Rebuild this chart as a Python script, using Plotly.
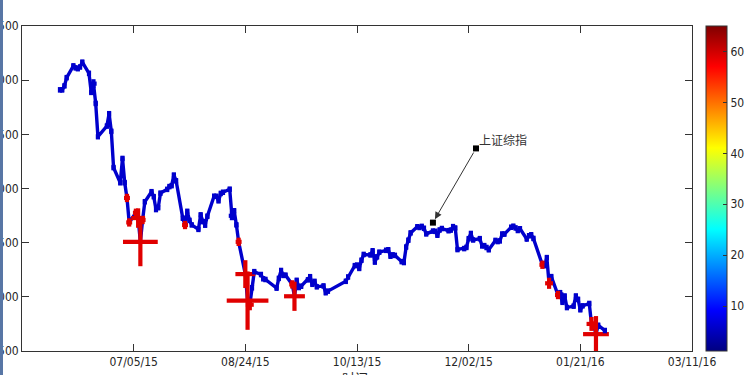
import plotly.graph_objects as go

# ---------------- data ----------------
dates = [
    "2015-06-02", "2015-06-03", "2015-06-04", "2015-06-05", "2015-06-08", "2015-06-09", "2015-06-10",
    "2015-06-11", "2015-06-12", "2015-06-15", "2015-06-16", "2015-06-17", "2015-06-18", "2015-06-19",
    "2015-06-23", "2015-06-24", "2015-06-25", "2015-06-26", "2015-06-29", "2015-06-30",
    "2015-07-01", "2015-07-02", "2015-07-03", "2015-07-06", "2015-07-07", "2015-07-08", "2015-07-09",
    "2015-07-10", "2015-07-13", "2015-07-14", "2015-07-15", "2015-07-16", "2015-07-17", "2015-07-20",
    "2015-07-21", "2015-07-22", "2015-07-23", "2015-07-24", "2015-07-27", "2015-07-28", "2015-07-29",
    "2015-07-30", "2015-07-31",
    "2015-08-03", "2015-08-04", "2015-08-05", "2015-08-06", "2015-08-07", "2015-08-10", "2015-08-11",
    "2015-08-12", "2015-08-13", "2015-08-14", "2015-08-17", "2015-08-18", "2015-08-19", "2015-08-20",
    "2015-08-21", "2015-08-24", "2015-08-25", "2015-08-26", "2015-08-27", "2015-08-28", "2015-08-31",
    "2015-09-01", "2015-09-02", "2015-09-07", "2015-09-08", "2015-09-09", "2015-09-10", "2015-09-11",
    "2015-09-14", "2015-09-15", "2015-09-16", "2015-09-17", "2015-09-18", "2015-09-21", "2015-09-22",
    "2015-09-23", "2015-09-24", "2015-09-25", "2015-09-28", "2015-09-29", "2015-09-30",
    "2015-10-08", "2015-10-09", "2015-10-12", "2015-10-13", "2015-10-14", "2015-10-15", "2015-10-16",
    "2015-10-19", "2015-10-20", "2015-10-21", "2015-10-22", "2015-10-23", "2015-10-26", "2015-10-27",
    "2015-10-28", "2015-10-29", "2015-10-30",
    "2015-11-02", "2015-11-03", "2015-11-04", "2015-11-05", "2015-11-06", "2015-11-09", "2015-11-10",
    "2015-11-11", "2015-11-12", "2015-11-13", "2015-11-16", "2015-11-17", "2015-11-18", "2015-11-19",
    "2015-11-20", "2015-11-23", "2015-11-24", "2015-11-25", "2015-11-26", "2015-11-27", "2015-11-30",
    "2015-12-01", "2015-12-02", "2015-12-03", "2015-12-04", "2015-12-07", "2015-12-08", "2015-12-09",
    "2015-12-10", "2015-12-11", "2015-12-14", "2015-12-15", "2015-12-16", "2015-12-17", "2015-12-18",
    "2015-12-21", "2015-12-22", "2015-12-23", "2015-12-24", "2015-12-25", "2015-12-28", "2015-12-29",
    "2015-12-30", "2015-12-31",
    "2016-01-04", "2016-01-05", "2016-01-06", "2016-01-07", "2016-01-08", "2016-01-11", "2016-01-12",
    "2016-01-13", "2016-01-14", "2016-01-15", "2016-01-18", "2016-01-19", "2016-01-20", "2016-01-21",
    "2016-01-22", "2016-01-25", "2016-01-26", "2016-01-27", "2016-01-28", "2016-01-29", "2016-02-01",
]
close = [
    4910.53, 4909.98, 4947.10, 5023.10, 5131.88, 5113.53, 5106.04,
    5121.59, 5166.35, 5062.99, 4887.43, 4967.90, 4785.36, 4478.36,
    4576.49, 4690.15, 4527.78, 4192.87, 4053.03, 4277.22,
    4053.70, 3912.77, 3686.92, 3775.91, 3727.12, 3507.19, 3709.33,
    3877.80, 3970.39, 3924.49, 3805.70, 3822.98, 3957.35, 3992.11,
    4017.67, 4026.04, 4123.92, 4070.91, 3725.56, 3663.00, 3789.17,
    3705.77, 3663.73,
    3622.91, 3756.55, 3694.57, 3661.54, 3744.20, 3928.42, 3927.91,
    3886.32, 3954.56, 3965.33, 3993.67, 3748.16, 3794.11, 3664.29,
    3507.74, 3209.91, 2964.97, 2927.29, 3083.59, 3232.35, 3205.99,
    3166.62, 3160.17, 3080.42, 3170.45, 3243.09, 3197.89, 3200.23,
    3114.80, 3005.17, 3152.26, 3086.06, 3097.92, 3156.54, 3185.62,
    3115.89, 3142.69, 3092.35, 3100.76, 3038.14, 3052.78,
    3143.36, 3183.15, 3287.66, 3293.23, 3262.44, 3338.07, 3391.35,
    3386.70, 3425.33, 3320.68, 3368.74, 3412.43, 3429.58, 3434.34,
    3375.20, 3387.32, 3382.56,
    3325.08, 3316.70, 3459.64, 3522.82, 3590.03, 3646.88, 3640.49,
    3650.25, 3632.90, 3580.84, 3606.96, 3604.80, 3568.47, 3617.06,
    3630.50, 3610.31, 3616.11, 3647.93, 3635.55, 3436.30, 3445.40,
    3456.31, 3536.91, 3584.82, 3524.99, 3536.93, 3470.07, 3472.44,
    3455.50, 3434.58, 3520.67, 3510.35, 3516.19, 3580.00, 3578.96,
    3642.47, 3651.77, 3636.09, 3612.49, 3627.91, 3533.78, 3563.74,
    3572.88, 3539.18,
    3296.26, 3287.71, 3361.84, 3125.00, 3186.41, 3016.70, 3022.86,
    2949.60, 3007.65, 2900.97, 2913.84, 3007.74, 2976.69, 2880.48,
    2916.56, 2938.51, 2749.79, 2735.56, 2655.66, 2737.60, 2688.85,
]
base_level = 6          # colour value of ordinary days
event_dates = [
    "2015-06-17", "2015-07-02", "2015-07-03", "2015-07-06", "2015-07-07", "2015-07-08",
    "2015-07-09", "2015-07-28", "2015-08-18", "2015-08-21", "2015-08-24", "2015-08-25",
    "2015-08-26", "2015-09-14", "2015-09-15", "2016-01-04", "2016-01-07", "2016-01-11",
    "2016-01-12", "2016-01-26", "2016-01-27", "2016-01-28",
]
event_level = [6, 59, 59, 59, 59, 59, 59, 59, 6, 59, 59, 59, 59, 59, 59, 59, 59, 59, 6, 59, 59, 59]
event_intensity = [0.6, 0.5, 0.5, 0.5, 2.5, 7.75, 0.5, 0.5, 0.6, 0.5, 4, 9.5,
                   1, 0.5, 4.25, 0.5, 1, 0.5, 0.6, 1.5, 0.5, 5.5]

x_ticks = ["2015-05-16", "2015-07-05", "2015-08-24", "2015-10-13", "2015-12-02", "2016-01-21", "2016-03-11"]
y_ticks = [2500, 3000, 3500, 4000, 4500, 5000, 5500]
cbar_ticks = [10, 20, 30, 40, 50, 60]
label_text = "上证综指"
x_title = "时间"

# ---------------- styling ----------------
CMIN, CMAX = 1.2, 65.0
JET = [[0.0, "rgb(0,0,128)"], [0.125, "rgb(0,0,255)"], [0.375, "rgb(0,255,255)"],
       [0.625, "rgb(255,255,0)"], [0.875, "rgb(255,0,0)"], [1.0, "rgb(128,0,0)"]]


def jet_rgb(v):
    f = (v - CMIN) / (CMAX - CMIN)
    stops = [(0.0, (0, 0, 128)), (0.125, (0, 0, 255)), (0.375, (0, 255, 255)),
             (0.625, (255, 255, 0)), (0.875, (255, 0, 0)), (1.0, (128, 0, 0))]
    for (f0, c0), (f1, c1) in zip(stops[:-1], stops[1:]):
        if f0 <= f <= f1:
            t = (f - f0) / (f1 - f0)
            return "rgb(%d,%d,%d)" % tuple(round(a + (b - a) * t) for a, b in zip(c0, c1))
    return "rgb(0,0,128)"


level = [base_level] * len(dates)
intensity = [0.0] * len(dates)
for d, lv, it in zip(event_dates, event_level, event_intensity):
    i = dates.index(d)
    level[i] = lv
    intensity[i] = it

order = sorted(range(len(dates)), key=lambda i: (level[i], intensity[i]))
mx = [dates[i] for i in order]
my = [close[i] for i in order]
mc = [level[i] for i in order]
w_px = [4 + 4 * intensity[i] for i in order]
h_px = [w * 1.4 for w in w_px]

FONT = "Liberation Sans Narrow, Arial Narrow, DejaVu Sans Condensed, Liberation Sans, sans-serif"
TXT = "#262626"

# plot-area geometry in pixels
W, H = 749, 375
L, R, T, B = 22, 57, 26, 24
PW, PH = W - L - R, H - T - B

fig = go.Figure()
fig.add_trace(go.Scatter(x=dates, y=close, mode="lines",
                         line=dict(color=jet_rgb(base_level), width=3.4),
                         hoverinfo="skip", showlegend=False))
for sym, sizes in (("line-ew", w_px), ("line-ns", h_px)):
    fig.add_trace(go.Scatter(x=mx, y=my, mode="markers", showlegend=False,
                             marker=dict(symbol=sym, size=[s / 1.41 for s in sizes], opacity=1,
                                         color=mc, coloraxis="coloraxis",
                                         line=dict(width=4.2, color=mc, coloraxis="coloraxis"))))

# annotation (text arrow with its two handles)
tail = ("2015-12-05 07:00", 4370)
head = ("2015-11-16", 3685)
fig.add_trace(go.Scatter(x=[tail[0], head[0]], y=[tail[1], head[1]], mode="markers",
                         marker=dict(symbol="square", size=6, color="black", opacity=1),
                         showlegend=False, hoverinfo="skip"))
fig.add_annotation(x=head[0], y=head[1], ax=tail[0], ay=tail[1], axref="x", ayref="y",
                   xref="x", yref="y", text="", showarrow=True, arrowhead=2, arrowsize=1.4,
                   arrowwidth=1, arrowcolor="#333", standoff=4, startstandoff=3)
fig.add_annotation(x=tail[0], y=tail[1], xref="x", yref="y", text=label_text, showarrow=False,
                   xanchor="left", yanchor="bottom", xshift=1, yshift=-2,
                   font=dict(family="Noto Sans CJK SC", size=12, color="#333"))
# x-axis title (cut by the window bottom)
fig.add_annotation(x=(355 - L) / PW, y=((H - B) - 366) / PH,
                   xref="paper", yref="paper",
                   text=x_title, showarrow=False, xanchor="center", yanchor="top",
                   font=dict(family="Noto Sans CJK SC", size=13, color=TXT))
# window edge strip
fig.add_shape(type="rect", xref="paper", yref="paper", x0=-L / PW, x1=(3 - L) / PW,
              y0=-B / PH, y1=1 + T / PH, fillcolor="rgb(88,118,165)", line_width=0,
              layer="above")

axis_common = dict(showline=True, linecolor="#333", linewidth=1, mirror="ticks",
                   ticks="inside", ticklen=7, tickcolor="#333", showgrid=False,
                   zeroline=False, automargin=False,
                   tickfont=dict(family=FONT, size=12, color=TXT))
fig.update_xaxes(type="date", range=[x_ticks[0], x_ticks[-1]], tickvals=x_ticks,
                 tickformat="%m/%d/%y", **axis_common)
fig.update_yaxes(range=[y_ticks[0], y_ticks[-1]], tickvals=y_ticks,
                 tickformat="d", **axis_common)

fig.update_layout(
    template="none",
    width=W, height=H,
    margin=dict(l=L, r=R, t=T, b=B),
    paper_bgcolor="white", plot_bgcolor="white",
    font=dict(family=FONT, size=12, color=TXT),
    coloraxis=dict(colorscale=JET, cmin=CMIN, cmax=CMAX,
                   colorbar=dict(xref="container", x=706 / W, xanchor="left",
                                 yref="paper", y=0.5, yanchor="middle",
                                 len=1, lenmode="fraction", thickness=21,
                                 xpad=0, ypad=0,
                                 outlinewidth=1, outlinecolor="#333",
                                 tickvals=cbar_ticks, ticks="inside", ticklen=4,
                                 tickcolor="#333",
                                 tickfont=dict(family=FONT, size=12, color=TXT))),
)

fig.write_html("out.html", config={"displayModeBar": False},
               post_script="document.body.style.margin='0';document.body.style.overflow='hidden';")
